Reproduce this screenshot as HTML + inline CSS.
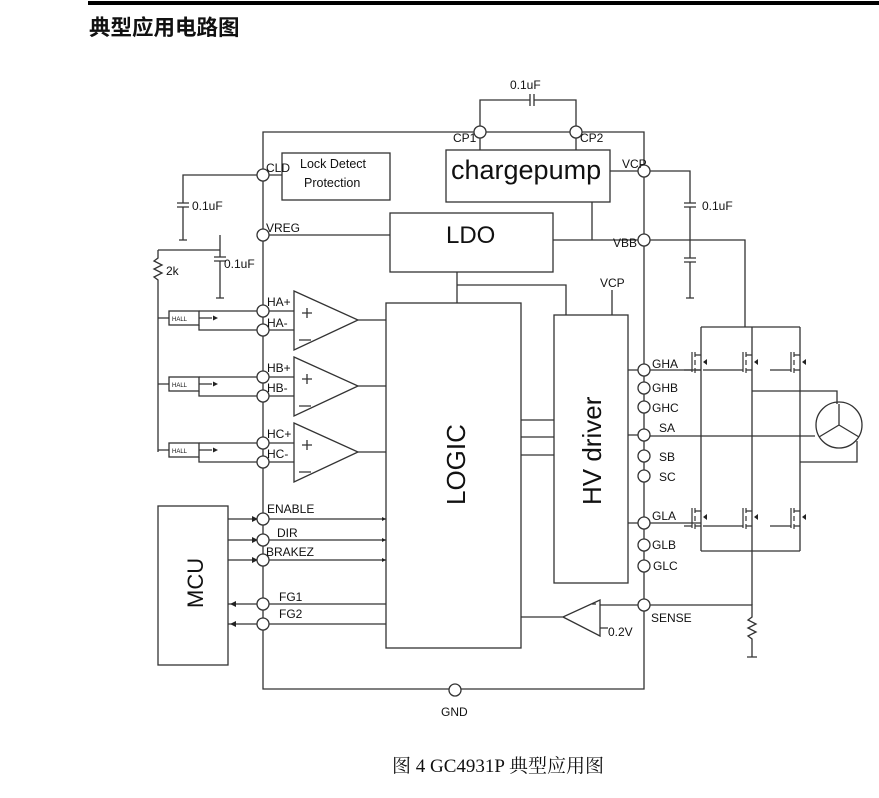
<!DOCTYPE html>
<html><head><meta charset="utf-8"><style>
html,body{margin:0;padding:0;background:#fff;}
svg{display:block;}
text{font-family:"Liberation Sans","Noto Sans CJK SC",sans-serif;fill:#111;}
</style></head><body>
<svg width="879" height="798" viewBox="0 0 879 798" xmlns="http://www.w3.org/2000/svg">
<rect x="88" y="1" width="791" height="4" fill="#000"/>
<text x="89" y="35" font-size="21.5" font-weight="bold" style="font-family:'Noto Sans CJK SC',sans-serif">典型应用电路图</text>

<g stroke="#333" stroke-width="1.3" fill="none">
<path d="M263 689 V132 H644 V689 Z"/>
<path d="M480 132 V100 H530 M534 100 H576 V132"/>
<path d="M530 94 V106 M534 94 V106"/>
<path d="M480 132 V150 M576 132 V150"/>
<rect x="282" y="153" width="108" height="47"/>
<rect x="446" y="150" width="164" height="52"/>
<rect x="390" y="213" width="163" height="59"/>
<rect x="386" y="303" width="135" height="345"/>
<rect x="554" y="315" width="74" height="268"/>
<rect x="158" y="506" width="70" height="159"/>
<path d="M263 175 H282 M263 175 H183 V203 M177 203 H189 M177 207 H189 M183 207 V240 M179 240 H187"/>
<path d="M263 235 H390 M220 235 V257 M214 257 H226 M214 261 H226 M220 261 V298 M216 298 H224"/>
<path d="M158 250 H220 M158 250 V258 L154 261 L162 265 L154 269 L162 273 L154 277 L158 280 V452"/>
<path d="M610 171 H644 M644 171 H690 V203 M684 203 H696 M684 207 H696 M690 207 V258 M684 258 H696 M684 262 H696 M690 262 V298 M686 298 H694"/>
<path d="M553 240 H644 M592 202 V240 M644 240 H745 V327"/>
<path d="M457 272 V303 M457 285 H566 V315 M612 290 V315"/>
<path d="M294 291 L358 320 L294 350 Z M294 357 L358 386 L294 416 Z M294 423 L358 452 L294 482 Z"/>
<path d="M358 320 H386 M358 386 H386 M358 452 H386"/>
<path d="M263 311 H294 M263 330 H294 M263 377 H294 M263 396 H294 M263 443 H294 M263 462 H294"/>
<path d="M302 313 H312 M307 308 V318 M299 340 H311 M302 379 H312 M307 374 V384 M299 406 H311 M302 445 H312 M307 440 V450 M299 472 H311"/>
<rect x="169" y="311" width="30" height="14"/><rect x="169" y="377" width="30" height="14"/><rect x="169" y="443" width="30" height="14"/>
<path d="M199 311 H263 M199 325 V330 H263 M199 318 H212 M199 384 H212 M199 450 H212 M199 377 H263 M199 391 V396 H263 M199 443 H263 M199 457 V462 H263"/>
<path d="M158 318 H169 M158 384 H169 M158 450 H169"/>
<path d="M228 519 H386 M228 540 H386 M228 560 H386 M228 604 H386 M228 624 H386"/>
<path d="M521 420 H554 M521 437 H554 M521 455 H554"/>
<path d="M628 370 H644 M628 435 H644 M628 523 H644"/>
<path d="M521 617 H563 L600 600 V636 L563 617 M600 605 H752 V617 L748 620 L756 624 L748 628 L756 632 L748 636 L752 639 V657 M747 657 H757"/>
<path d="M600 628 H608 M592 604 H596"/>
<path d="M701 327 H800 M701 327 V551 M752 327 V551 M800 327 V551 M701 551 H800 M752 551 V605"/>
<path d="M644 370 H701 M644 523 H701 M644 436 H815"/>
<path d="M752 391 H837 V404 M800 462 H857 V441"/>
<circle cx="839" cy="425" r="23"/>
<path d="M839 425 V404 M839 425 L819 437 M839 425 L859 437"/>
</g>
<g stroke="#333" stroke-width="1.2" fill="none">
<path d="M692 352 V372 M695 352 V357 M695 360 V365 M695 368 V373 M695 355 H701 M695 370 H701 M684 370 H692"/>
<path d="M743 352 V372 M746 352 V357 M746 360 V365 M746 368 V373 M746 355 H752 M746 370 H752 M703 370 H743"/>
<path d="M791 352 V372 M794 352 V357 M794 360 V365 M794 368 V373 M794 355 H800 M794 370 H800 M770 370 H791"/>
<path d="M692 508 V528 M695 508 V513 M695 516 V521 M695 524 V529 M695 511 H701 M695 526 H701 M684 526 H692"/>
<path d="M743 508 V528 M746 508 V513 M746 516 V521 M746 524 V529 M746 511 H752 M746 526 H752 M703 526 H743"/>
<path d="M791 508 V528 M794 508 V513 M794 516 V521 M794 524 V529 M794 511 H800 M794 526 H800 M770 526 H791"/>
</g>
<g fill="#222">
<path d="M703 362 l4 -3 v6z M754 362 l4 -3 v6z M802 362 l4 -3 v6z M703 517 l4 -3 v6z M754 517 l4 -3 v6z M802 517 l4 -3 v6z"/>
<path d="M258 519 l-6 -3 v6z M258 540 l-6 -3 v6z M258 560 l-6 -3 v6z M230 604 l6 -3 v6z M230 624 l6 -3 v6z M386 519 l-4 -2 v4z M386 540 l-4 -2 v4z M386 560 l-4 -2 v4z"/>
<path d="M218 318 l-5 -2.5 v5z M218 384 l-5 -2.5 v5z M218 450 l-5 -2.5 v5z"/>
</g>
<g stroke="#333" stroke-width="1.3" fill="#fff">
<circle cx="263" cy="175" r="6"/><circle cx="263" cy="235" r="6"/>
<circle cx="263" cy="311" r="6"/><circle cx="263" cy="330" r="6"/>
<circle cx="263" cy="377" r="6"/><circle cx="263" cy="396" r="6"/>
<circle cx="263" cy="443" r="6"/><circle cx="263" cy="462" r="6"/>
<circle cx="263" cy="519" r="6"/><circle cx="263" cy="540" r="6"/><circle cx="263" cy="560" r="6"/>
<circle cx="263" cy="604" r="6"/><circle cx="263" cy="624" r="6"/>
<circle cx="455" cy="690" r="6"/><circle cx="480" cy="132" r="6"/><circle cx="576" cy="132" r="6"/>
<circle cx="644" cy="171" r="6"/><circle cx="644" cy="240" r="6"/>
<circle cx="644" cy="370" r="6"/><circle cx="644" cy="388" r="6"/><circle cx="644" cy="407" r="6"/>
<circle cx="644" cy="435" r="6"/><circle cx="644" cy="456" r="6"/><circle cx="644" cy="476" r="6"/>
<circle cx="644" cy="523" r="6"/><circle cx="644" cy="545" r="6"/><circle cx="644" cy="566" r="6"/>
<circle cx="644" cy="605" r="6"/>
</g>
<g font-size="12">
<text x="266" y="172">CLD</text><text x="266" y="232">VREG</text>
<text x="267" y="306">HA+</text><text x="267" y="327">HA-</text>
<text x="267" y="372">HB+</text><text x="267" y="392">HB-</text>
<text x="267" y="438">HC+</text><text x="267" y="458">HC-</text>
<text x="267" y="513">ENABLE</text><text x="277" y="537">DIR</text><text x="266" y="556">BRAKEZ</text>
<text x="279" y="601">FG1</text><text x="279" y="618">FG2</text>
<text x="441" y="716">GND</text>
<text x="453" y="142">CP1</text><text x="580" y="142">CP2</text>
<text x="510" y="89">0.1uF</text>
<text x="622" y="168">VCP</text><text x="613" y="247">VBB</text>
<text x="702" y="210">0.1uF</text><text x="192" y="210">0.1uF</text><text x="224" y="268">0.1uF</text>
<text x="166" y="275">2k</text>
<text x="600" y="287">VCP</text>
<text x="652" y="368">GHA</text><text x="652" y="392">GHB</text><text x="652" y="412">GHC</text>
<text x="659" y="432">SA</text><text x="659" y="461">SB</text><text x="659" y="481">SC</text>
<text x="652" y="520">GLA</text><text x="652" y="549">GLB</text><text x="653" y="570">GLC</text>
<text x="651" y="622">SENSE</text><text x="608" y="636">0.2V</text>
<text x="300" y="168" font-size="12.5">Lock Detect</text><text x="304" y="187" font-size="12.5">Protection</text>
</g>
<g font-size="6"><text x="172" y="321">HALL</text><text x="172" y="387">HALL</text><text x="172" y="453">HALL</text></g>
<text x="451" y="179" font-size="27">chargepump</text>
<text x="446" y="243" font-size="24">LDO</text>
<text font-size="26" transform="translate(465 505) rotate(-90)">LOGIC</text>
<text font-size="26" transform="translate(601 505) rotate(-90)">HV driver</text>
<text font-size="22" transform="translate(203 608) rotate(-90)">MCU</text>
<text x="392" y="772" font-size="19" style="font-family:'Liberation Serif','Noto Serif CJK SC',serif">图 4 GC4931P 典型应用图</text>
</svg>
</body></html>
